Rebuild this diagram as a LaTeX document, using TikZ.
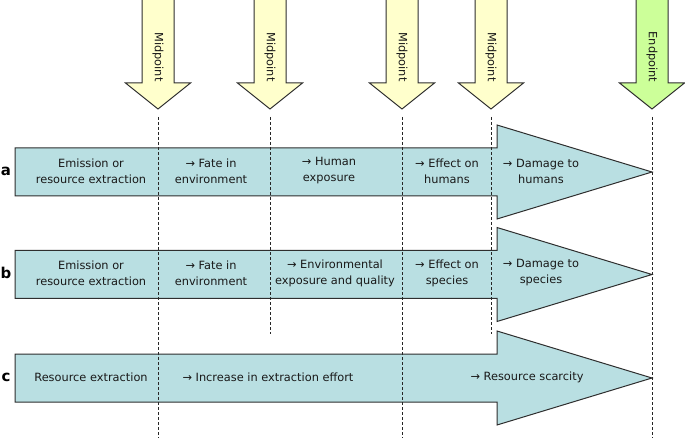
\documentclass[tikz,border=0pt]{standalone}
\usepackage{fontspec}
\setmainfont{DejaVu Sans}
\usetikzlibrary{positioning}
\definecolor{pathfill}{HTML}{B9DFE2}
\definecolor{midfill}{HTML}{FFFFCC}
\definecolor{endfill}{HTML}{CCFF99}
\definecolor{edgegray}{HTML}{2E2E2E}
\begin{document}
\begin{tikzpicture}[x=1bp,y=-1bp,
 band/.style={draw=edgegray,fill=pathfill,line width=1bp},
 marker/.style={draw=edgegray,line width=1bp},
 lbl/.style={align=center,font=\fontsize{11.4}{16}\selectfont,inner sep=0pt,text=black!90},
 tag/.style={font=\fontsize{15}{15}\selectfont\bfseries,inner sep=0pt},
 guide/.style={black!85,line width=0.7bp,dash pattern=on 3bp off 2bp}]
\clip (0,0) rectangle (685,438);
% pathway bands a, b, c
\foreach \ty in {172,274.5,378}
 \draw[band] (15,\ty-24) -- (497,\ty-24) -- (497,\ty-47) -- (652,\ty)
 -- (497,\ty+47) -- (497,\ty+24) -- (15,\ty+24) -- cycle;
% midpoint / endpoint markers
\foreach \i/\cx/\fc/\txt in {1/158/midfill/Midpoint,2/270/midfill/Midpoint,
 3/402/midfill/Midpoint,4/491/midfill/Midpoint,5/652/endfill/Endpoint}{
 \draw[marker,fill=\fc] (\cx-16,-2) -- (\cx-16,83) -- (\cx-32.5,83) -- (\cx,109)
 -- (\cx+32.5,83) -- (\cx+16,83) -- (\cx+16,-2);
 \node[lbl,rotate=-90] (m\i) at (\cx,57) {\txt};
 \coordinate (m\i-tip) at (\cx,117);
}
\coordinate (m1-end) at (158,438);
\coordinate (m2-end) at (270,334);
\coordinate (m3-end) at (402,438);
\coordinate (m4-end) at (491,334);
\coordinate (m5-end) at (652,438);
\foreach \i in {1,...,5} \draw[guide] (m\i-tip) -- (m\i-end);
% row a
\node[tag] (ta) at (6,171) {a};
\node[lbl] (a1) at (91,171) {Emission or\\resource extraction};
\node[lbl] (a2) at (211,171) {→ Fate in\\environment};
\node[lbl] (a3) at (329,171) {→ Human\\exposure};
\node[lbl] (a4) at (447,171) {→ Effect on\\humans};
\node[lbl] (a5) at (541,171) {→ Damage to\\humans};
% row b
\node[tag] (tb) at (6,273) {b};
\node[lbl] (b1) at (91,273) {Emission or\\resource extraction};
\node[lbl] (b2) at (211,273) {→ Fate in\\environment};
\node[lbl] (b3) at (335,273) {→ Environmental\\exposure and quality};
\node[lbl] (b4) at (447,273) {→ Effect on\\species};
\node[lbl] (b5) at (541,273) {→ Damage to\\species};
% row c
\node[tag] (tc) at (6,377) {c};
\node[lbl] (c1) at (91,377) {Resource extraction};
\node[lbl] (c2) at (268,377) {→ Increase in extraction effort};
\node[lbl] (c3) at (527,377) {→ Resource scarcity};
\end{tikzpicture}
\end{document}
